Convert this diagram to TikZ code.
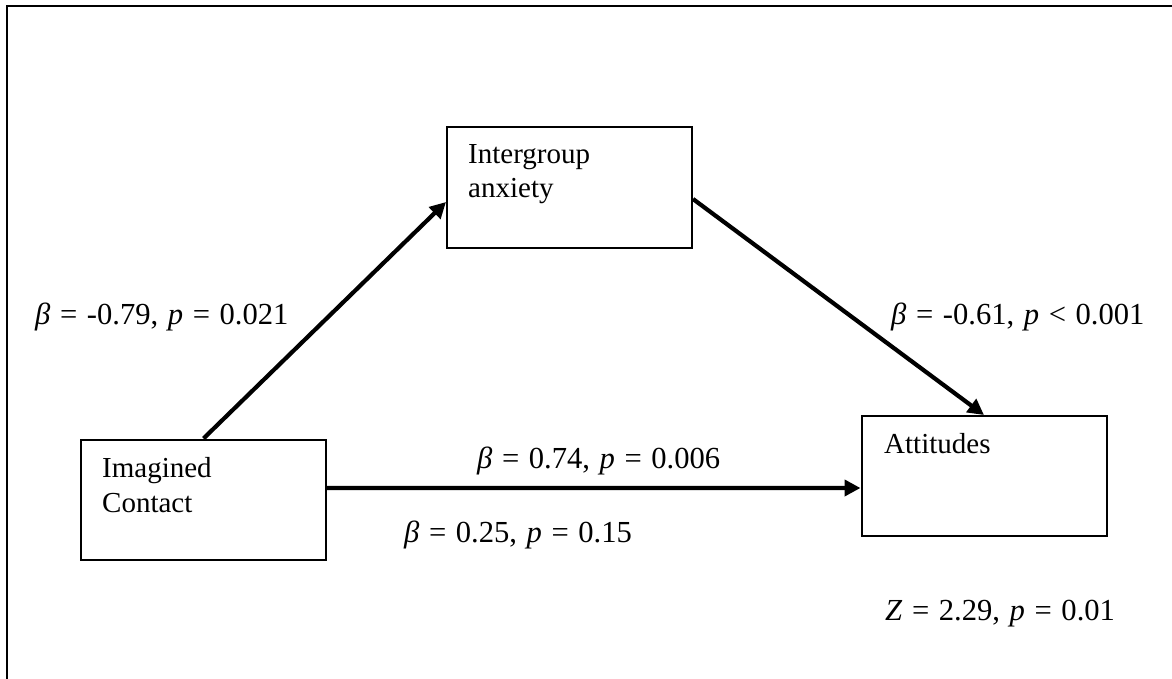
\documentclass[tikz,border=0pt]{standalone}
\usepackage{fontspec}
\setmainfont{Liberation Serif}
\usetikzlibrary{arrows.meta,calc}
\newcommand\mylblfont{\fontsize{30.6bp}{34bp}\selectfont\spaceskip=9.6bp\relax}
\begin{document}
\begin{tikzpicture}[x=1bp,y=-1bp,
  box/.style={draw=black,line width=2bp,rectangle,inner sep=0,minimum width=245bp,minimum height=120bp},
  txt/.style={inner sep=0,anchor=base west,font=\fontsize{29bp}{34bp}\selectfont},
  lbl/.style={inner sep=0,anchor=base west,font=\mylblfont},
  arr/.style={line width=4.2bp,-{Triangle[length=16bp,width=16bp]}},
  frame/.style={line width=2.4bp}]
\useasboundingbox (0,0) rectangle (1172,679);
\draw[frame] (7,679) -- (7,6) -- (1172,6);
% boxes
\node[box] (ig) at (569.5,187.5) {};
\node[box] (ic) at (203.5,499.5) {};
\node[box] (att) at (984,476) {};
% box texts
\node[txt] (ig1) at (468,164) {Intergroup};
\node[txt] (ig2) at (468,198) {anxiety};
\node[txt] (ic1) at (102,477) {Imagined};
\node[txt] (ic2) at (102,512) {Contact};
\node[txt] (att1) at (884,453) {Attitudes};
% arrows
\draw[arr] (ic.north) -- ([yshift=-14.5bp]ig.west);
\draw[arr] ([yshift=-11.5bp]ig.east) -- (att.north);
\draw[arr] ([yshift=11.5bp]ic.east) -- ([yshift=-12bp]att.west);
% labels
\node[lbl] (la) at (35,324) {\textit{β} = -0.79, \textit{p} = 0.021};
\node[lbl] (lb) at (891,324) {\textit{β} = -0.61, \textit{p} < 0.001};
\node[lbl] (lc) at (477,468) {\textit{β} = 0.74, \textit{p} = 0.006};
\node[lbl] (ld) at (404,542) {\textit{β} = 0.25, \textit{p} = 0.15};
\node[lbl] (lz) at (885,620) {\textit{Z} = 2.29, \textit{p} = 0.01};
\end{tikzpicture}
\end{document}
